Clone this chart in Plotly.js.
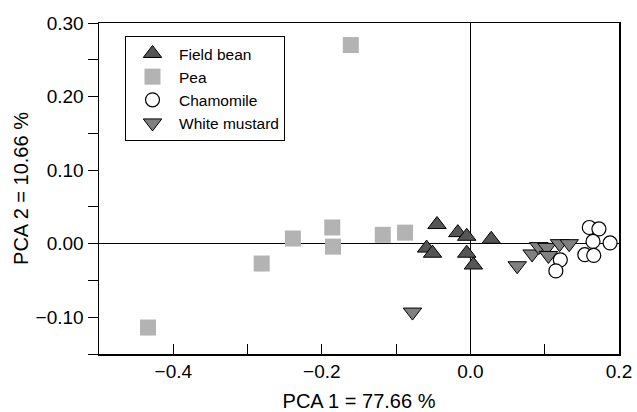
<!DOCTYPE html>
<html>
<head>
<meta charset="utf-8">
<script src="https://cdn.plot.ly/plotly-3.0.1.min.js"></script>
<style>html,body{margin:0;padding:0;background:#fff;}#chart{width:637px;height:412px;}</style>
</head>
<body>
<div id="chart"></div>
<script>
// Series values (PCA scores)
const fieldBeanX = [-0.045, -0.017, -0.005, 0.028, -0.059, -0.051, -0.005, 0.004];
const fieldBeanY = [0.026, 0.015, 0.010, 0.006, -0.006, -0.013, -0.013, -0.029];

const peaX = [-0.161, -0.434, -0.281, -0.239, -0.186, -0.185, -0.118, -0.088];
const peaY = [0.270, -0.114, -0.027, 0.007, 0.022, -0.004, 0.012, 0.015];

const chamomileX = [0.160, 0.173, 0.165, 0.188, 0.154, 0.166, 0.121, 0.115];
const chamomileY = [0.022, 0.020, 0.003, 0.001, -0.015, -0.016, -0.022, -0.037];

const mustardX = [-0.078, 0.063, 0.083, 0.092, 0.103, 0.105, 0.120, 0.133];
const mustardY = [-0.093, -0.030, -0.014, -0.004, -0.005, -0.016, 0.000, 0.000];

const seriesNames = ["Field bean", "Pea", "Chamomile", "White mustard"];

const FONT = "Arial, 'Liberation Sans', sans-serif";

const traces = [
  {
    name: seriesNames[0], x: fieldBeanX, y: fieldBeanY, type: "scatter", mode: "markers",
    legendrank: 1,
    marker: {symbol: "triangle-up", size: 16, color: "#555555", line: {color: "#000", width: 1}}
  },
  {
    name: seriesNames[1], x: peaX, y: peaY, type: "scatter", mode: "markers",
    legendrank: 2,
    marker: {symbol: "square", size: 16, color: "#b3b3b3", line: {width: 0}}
  },
  {
    name: seriesNames[3], x: mustardX, y: mustardY, type: "scatter", mode: "markers",
    legendrank: 4,
    marker: {symbol: "triangle-down", size: 16, color: "#808080", line: {color: "#000", width: 1}}
  },
  {
    name: seriesNames[2], x: chamomileX, y: chamomileY, type: "scatter", mode: "markers",
    legendrank: 3,
    marker: {symbol: "circle", size: 14, color: "#ffffff", line: {color: "#000", width: 1.2}}
  }
];

const layout = {
  width: 637, height: 412,
  margin: {l: 99, r: 18, t: 23, b: 58},
  paper_bgcolor: "#fff", plot_bgcolor: "#fff",
  font: {family: FONT, color: "#000", size: 19},
  showlegend: true,
  legend: {
    x: 0.05, y: 0.961, xanchor: "left", yanchor: "top",
    bordercolor: "#000", borderwidth: 1, bgcolor: "#fff",
    font: {family: FONT, size: 15.5, color: "#000"},
    itemwidth: 43, tracegroupgap: 0
  },
  xaxis: {
    range: [-0.5, 0.2], tick0: 0, dtick: 0.2, tickformat: ".1f",
    ticks: "inside", ticklen: 10, tickcolor: "#000", tickwidth: 1,
    minor: {dtick: 0.1, tick0: 0, ticks: "inside", ticklen: 10, tickcolor: "#000", tickwidth: 1},
    showline: true, linecolor: "#000", linewidth: 1.5, mirror: true,
    showgrid: false, zeroline: true, zerolinecolor: "#000", zerolinewidth: 1,
    tickfont: {family: FONT, size: 19, color: "#000"},
    title: {text: "PCA 1 = 77.66 %", font: {family: FONT, size: 20, color: "#000"}, standoff: 15}
  },
  yaxis: {
    range: [-0.15, 0.30], tick0: 0, dtick: 0.1, tickformat: ".2f",
    ticks: "outside", ticklen: 10, tickcolor: "#000", tickwidth: 1,
    minor: {dtick: 0.05, tick0: 0, ticks: "outside", ticklen: 10, tickcolor: "#000", tickwidth: 1},
    showline: true, linecolor: "#000", linewidth: 1.5, mirror: true,
    showgrid: false, zeroline: true, zerolinecolor: "#000", zerolinewidth: 1,
    tickfont: {family: FONT, size: 19, color: "#000"},
    title: {text: "PCA 2 = 10.66 %", font: {family: FONT, size: 20, color: "#000"}, standoff: 1}
  }
};

Plotly.newPlot("chart", traces, layout, {displayModeBar: false, staticPlot: true});
</script>
</body>
</html>
